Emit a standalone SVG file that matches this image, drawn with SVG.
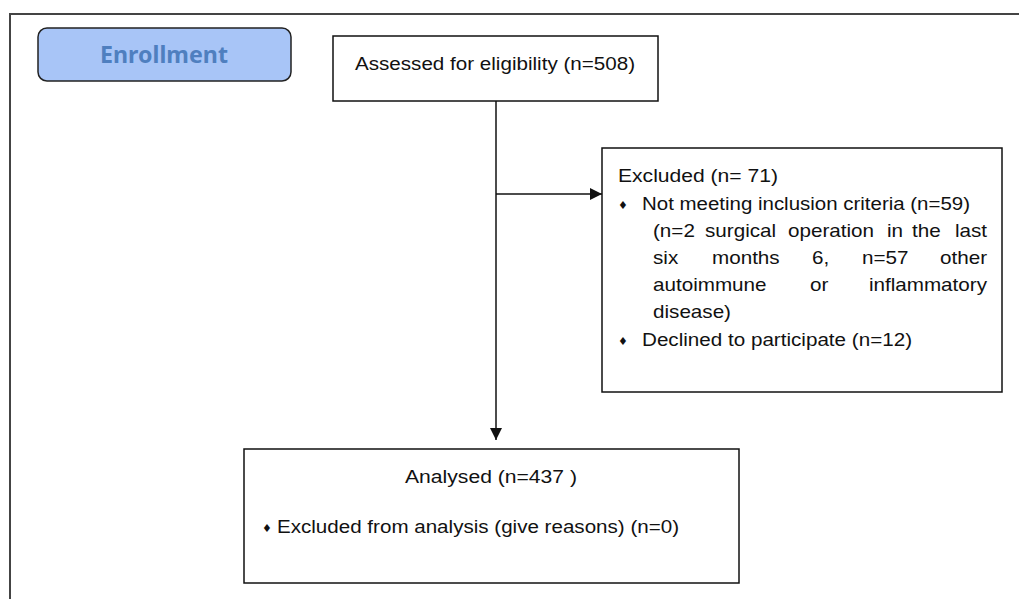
<svg xmlns="http://www.w3.org/2000/svg" width="1019" height="599" viewBox="0 0 1019 599">
<style>
.box{fill:#fff;stroke:#111;stroke-width:1.5}
.t{font-family:"Liberation Sans",Arial,sans-serif;font-size:17.5px;fill:#111}
.b{font-family:"DejaVu Sans",sans-serif;font-size:11px;fill:#111}
.ln{stroke:#111;stroke-width:1.5;fill:none}
.frame{stroke:#444;stroke-width:2;fill:none}
</style>
<defs>
<marker id="ah" viewBox="0 0 12 12" refX="12" refY="6" markerWidth="12" markerHeight="12" markerUnits="userSpaceOnUse" orient="auto">
<path d="M0,0 L12,6 L0,12 Z" fill="#111"/>
</marker>
</defs>
<rect width="1019" height="599" fill="#fff"/>
<path class="frame" d="M10,599 V14 H1019"/>
<g id="enrollment">
<rect x="38" y="28" width="253" height="53" rx="9" fill="#a8c5f7" stroke="#222" stroke-width="1.5"/>
<text x="100" y="63" textLength="128" lengthAdjust="spacingAndGlyphs" font-family="'Noto Sans','Open Sans',sans-serif" font-weight="bold" font-size="24" fill="#4f7fbf">Enrollment</text>
</g>
<g id="assessed">
<rect class="box" x="333" y="36" width="325" height="65"/>
<text class="t" x="355" y="70" textLength="280" lengthAdjust="spacingAndGlyphs">Assessed  for eligibility (n=508)</text>
</g>
<g id="excluded">
<rect class="box" x="602" y="148" width="400" height="244"/>
<text class="t" x="618" y="182" textLength="160" lengthAdjust="spacingAndGlyphs">Excluded  (n= 71)</text>
<text class="b" x="618" y="209">♦</text>
<text class="t" x="642" y="210" textLength="328" lengthAdjust="spacingAndGlyphs">Not meeting inclusion criteria (n=59)</text>
<text class="t" transform="translate(653,237) scale(1.18,1)">(n=2</text>
<text class="t" transform="translate(705,237) scale(1.18,1)">surgical</text>
<text class="t" transform="translate(788,237) scale(1.18,1)">operation</text>
<text class="t" transform="translate(887,237) scale(1.18,1)">in</text>
<text class="t" transform="translate(912,237) scale(1.18,1)">the</text>
<text class="t" transform="translate(987,237) scale(1.18,1)" text-anchor="end">last</text>
<text class="t" transform="translate(653,264) scale(1.18,1)">six</text>
<text class="t" transform="translate(712,264) scale(1.18,1)">months</text>
<text class="t" transform="translate(812,264) scale(1.18,1)">6,</text>
<text class="t" transform="translate(862,264) scale(1.18,1)">n=57</text>
<text class="t" transform="translate(987,264) scale(1.18,1)" text-anchor="end">other</text>
<text class="t" transform="translate(653,291) scale(1.18,1)">autoimmune</text>
<text class="t" transform="translate(810,291) scale(1.18,1)">or</text>
<text class="t" transform="translate(987,291) scale(1.18,1)" text-anchor="end">inflammatory</text>
<text class="t" transform="translate(653,318) scale(1.18,1)">disease)</text>
<text class="b" x="618" y="345">♦</text>
<text class="t" x="642" y="346" textLength="270" lengthAdjust="spacingAndGlyphs">Declined to participate (n=12)</text>
</g>
<g id="analysed">
<rect class="box" x="244" y="449" width="495" height="134"/>
<text class="t" x="405" y="483" textLength="172" lengthAdjust="spacingAndGlyphs">Analysed  (n=437 )</text>
<text class="b" x="262" y="532">♦</text>
<text class="t" x="277" y="533" textLength="402" lengthAdjust="spacingAndGlyphs">Excluded from analysis (give reasons) (n=0)</text>
</g>
<g id="connectors">
<line class="ln" x1="496" y1="101" x2="496" y2="440" marker-end="url(#ah)"/>
<line class="ln" x1="496" y1="194" x2="602" y2="194" marker-end="url(#ah)"/>
</g>
</svg>
